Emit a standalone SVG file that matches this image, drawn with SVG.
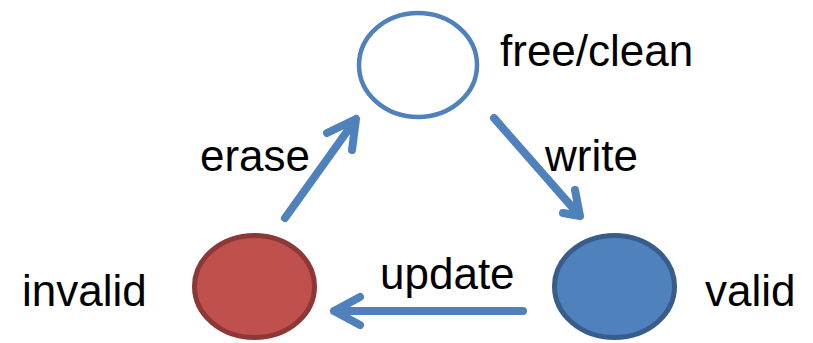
<svg xmlns="http://www.w3.org/2000/svg" width="813" height="343" viewBox="0 0 813 343">
<style>
text{font-family:"Liberation Sans",Arial,sans-serif;font-size:44px;fill:#000}
.arr{fill:none;stroke:#4F81BD;stroke-width:8;stroke-linecap:round;stroke-linejoin:round}
</style>
<rect width="813" height="343" fill="#fff"/>
<g id="free">
<ellipse cx="418" cy="65" rx="59" ry="52" fill="#fff" stroke="#4F81BD" stroke-width="4.5"/>
<text x="500" y="66">free/clean</text>
</g>
<g id="invalid">
<ellipse cx="254.5" cy="286.5" rx="60" ry="51" fill="#C0504D" stroke="#8C3836" stroke-width="5"/>
<text x="22" y="306">invalid</text>
</g>
<g id="valid">
<ellipse cx="614.5" cy="286.5" rx="60" ry="51" fill="#4F81BD" stroke="#385D8A" stroke-width="5"/>
<text x="705" y="306">valid</text>
</g>
<g id="connectors">
<path class="arr" d="M285 218 L356 119 M327 133 L356 119 L352 150"/>
<path class="arr" d="M494 118 L580 216 M575 190 L580 216 L563 213"/>
<path class="arr" d="M523 311 L334 311 M360 297 L334 311 L360 325"/>
<text x="200" y="171">erase</text>
<text x="545" y="171">write</text>
<text x="380" y="289">update</text>
</g>
</svg>
